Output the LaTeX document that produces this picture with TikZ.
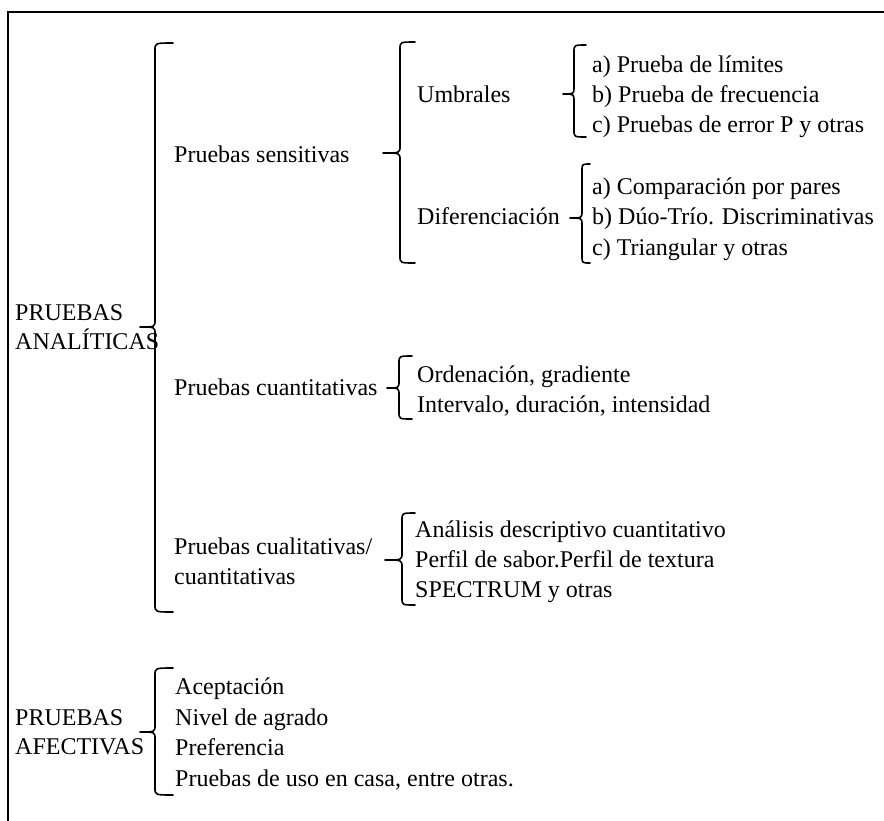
\documentclass[tikz,border=0pt]{standalone}
\usepackage{fontspec}
\setmainfont{Liberation Serif}
\tikzset{
  lbl/.style={anchor=base west, inner sep=0pt, font=\fontsize{24}{29}\selectfont},
  brc/.style={line width=1.6pt, line cap=round, line join=round},
  framestyle/.style={line width=1.6pt}
}
% #1 x of tip, #2 x of spine, #3 x of tick ends, #4 top y, #5 tip y, #6 bottom y
\newcommand\wordbrace[6]{%
  \draw[brc] (#3,#4) .. controls (#2,#4) .. (#2,#4+7) -- (#2,#5-7)
    .. controls (#2,#5) .. (#1,#5) .. controls (#2,#5) .. (#2,#5+7)
    -- (#2,#6-7) .. controls (#2,#6) .. (#3,#6);}
\begin{document}
\begin{tikzpicture}[x=1pt,y=-1pt]
\useasboundingbox (0,0) rectangle (884,820);
\fill[white] (0,0) rectangle (884,820);
% frame
\draw[framestyle] (8,830) -- (8,12) -- (890,12);

% level 0
\node[lbl] (pa1) at (15,320) {PRUEBAS};
\node[lbl] (pa2) at (15,349) {ANALÍTICAS};
\node[lbl] (pf1) at (15,725) {PRUEBAS};
\node[lbl] (pf2) at (15,754) {AFECTIVAS};

% level 1
\node[lbl] (sens) at (174,162) {Pruebas sensitivas};
\node[lbl] (cuan) at (174,395) {Pruebas cuantitativas};
\node[lbl] (cual1) at (174,554) {Pruebas cualitativas/};
\node[lbl] (cual2) at (174,584) {cuantitativas};

% level 2
\node[lbl] (umb) at (417,102) {Umbrales};
\node[lbl] (dif) at (417,224) {Diferenciación};

% leaves
\node[lbl] (u1) at (592,72) {a) Prueba de límites};
\node[lbl] (u2) at (592,102) {b) Prueba de frecuencia};
\node[lbl] (u3) at (592,132) {c) Pruebas de error P y otras};
\node[lbl] (d1) at (592,194) {a) Comparación por pares};
\node[lbl] (d2) at (592,224) {b) Dúo-Trío. Discriminativas};
\node[lbl] (d3) at (592,255) {c) Triangular y otras};
\node[lbl] (q1) at (417,382) {Ordenación, gradiente};
\node[lbl] (q2) at (417,412) {Intervalo, duración, intensidad};
\node[lbl] (c1) at (415,537) {Análisis descriptivo cuantitativo};
\node[lbl] (c2) at (415,567) {Perfil de sabor.Perfil de textura};
\node[lbl] (c3) at (415,597) {SPECTRUM y otras};
\node[lbl] (a1) at (175,694) {Aceptación};
\node[lbl] (a2) at (175,725) {Nivel de agrado};
\node[lbl] (a3) at (175,755) {Preferencia};
\node[lbl] (a4) at (175,786) {Pruebas de uso en casa, entre otras.};

% braces
\wordbrace{140}{155}{173}{43}{327}{612}
\wordbrace{383}{400}{415}{42}{153}{263}
\wordbrace{563}{574}{586}{45}{94}{137}
\wordbrace{570}{582}{590}{164}{218}{263}
\wordbrace{387}{399}{412}{356}{388}{419}
\wordbrace{385}{402}{415}{513}{560}{605}
\wordbrace{140}{155}{173}{668}{732}{795}
\end{tikzpicture}
\end{document}
